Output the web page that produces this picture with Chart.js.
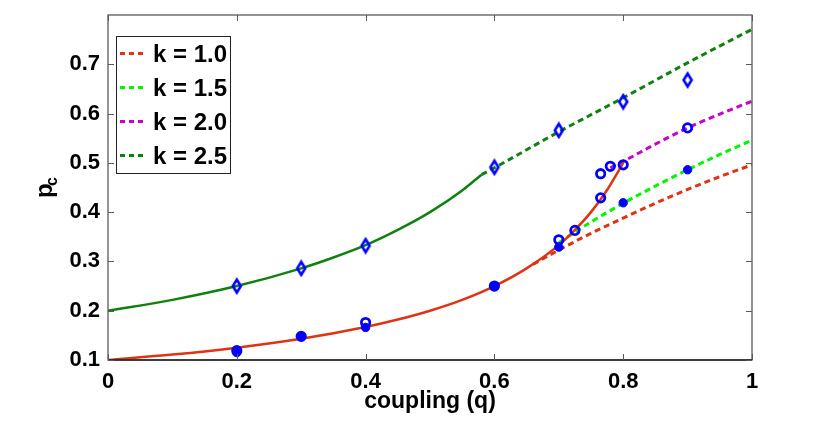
<!DOCTYPE html>
<html>
<head>
<meta charset="utf-8">
<script src="https://cdn.jsdelivr.net/npm/chart.js@4.4.1/dist/chart.umd.min.js"></script>
<style>
  html, body { margin: 0; padding: 0; background: #fff; }
  canvas { display: block; }
</style>
</head>
<body>
<canvas id="pc-chart" width="830" height="427"></canvas>
<script>
// Theory curves (solid) and their dashed continuations
const redSolidQ = [0, 0.1, 0.2, 0.3, 0.4, 0.45, 0.5, 0.55, 0.6, 0.65, 0.7, 0.725, 0.75, 0.775, 0.8];
const redSolidP = [0.1, 0.111, 0.125, 0.143, 0.167, 0.182, 0.2, 0.222, 0.25, 0.286, 0.333, 0.364, 0.4, 0.445, 0.5];

const greenSolidQ = [0, 0.1, 0.2, 0.3, 0.35, 0.4, 0.45, 0.5, 0.55, 0.58];
const greenSolidP = [0.2, 0.222, 0.25, 0.286, 0.308, 0.333, 0.364, 0.4, 0.444, 0.476];

// dashed branches, one per k
const k10Q = [0.66, 0.7, 0.75, 0.8, 0.85, 0.9, 0.95, 1.0];
const k10P = [0.294, 0.323, 0.357, 0.388, 0.418, 0.446, 0.472, 0.496];
const k15Q = [0.7, 0.75, 0.8, 0.85, 0.9, 0.95, 1.0];
const k15P = [0.338, 0.38, 0.418, 0.453, 0.486, 0.517, 0.546];
const k20Q = [0.78, 0.8, 0.85, 0.9, 0.95, 1.0];
const k20P = [0.49, 0.503, 0.538, 0.571, 0.599, 0.625];
const k25Q = [0.58, 0.6, 0.7, 0.8, 0.9, 1.0];
const k25P = [0.476, 0.49, 0.563, 0.632, 0.703, 0.771];

const kLabels = ['k = 1.0', 'k = 1.5', 'k = 2.0', 'k = 2.5'];

// simulation markers
const filledQ = [0.2, 0.3, 0.4, 0.6, 0.7, 0.8, 0.9];
const filledP = [0.115, 0.147, 0.166, 0.249, 0.329, 0.419, 0.486];
const openQ = [0.2, 0.3, 0.4, 0.6, 0.7, 0.725, 0.765, 0.765, 0.78, 0.8, 0.9];
const openP = [0.119, 0.148, 0.176, 0.25, 0.344, 0.363, 0.429, 0.478, 0.493, 0.496, 0.571];
const diamondQ = [0.2, 0.3, 0.4, 0.6, 0.7, 0.8, 0.9];
const diamondP = [0.25, 0.286, 0.332, 0.491, 0.566, 0.624, 0.668];

const xTicks = [0, 0.2, 0.4, 0.6, 0.8, 1];

const RED = 'rgb(222, 52, 20)';
const LIME = 'rgb(0, 245, 0)';
const MAGENTA = 'rgb(200, 0, 200)';
const DKGREEN = 'rgb(16, 128, 16)';
const BLUE = 'rgb(0, 0, 255)';
const AXIS = '#5a5a5a';
const FONT = 'Liberation Sans, Arial, sans-serif';

function pts(qs, ps) {
  return qs.map((q, i) => ({ x: q, y: ps[i] }));
}

function curve(qs, ps, color, dashed, legendLabel) {
  return {
    data: pts(qs, ps),
    showLine: true,
    borderColor: color,
    borderWidth: dashed ? 3 : 2.5,
    borderDash: dashed ? [6, 4] : [],
    pointRadius: 0,
    fill: false,
    cubicInterpolationMode: 'monotone',
    order: 2,
    legendLabel: legendLabel
  };
}

// diamond marker drawn once on a small canvas
const diamond = document.createElement('canvas');
diamond.width = 14;
diamond.height = 18;
(function () {
  const c = diamond.getContext('2d');
  c.strokeStyle = BLUE;
  c.lineWidth = 2.6;
  c.beginPath();
  c.moveTo(7, 2.5);
  c.lineTo(11, 9);
  c.lineTo(7, 15.5);
  c.lineTo(3, 9);
  c.closePath();
  c.stroke();
})();

const datasets = [
  {
    data: pts(filledQ, filledP),
    pointStyle: 'circle',
    pointRadius: 4.2,
    pointBackgroundColor: BLUE,
    pointBorderColor: BLUE,
    pointBorderWidth: 1,
    showLine: false,
    order: 0
  },
  {
    data: pts(openQ, openP),
    pointStyle: 'circle',
    pointRadius: 4.2,
    pointBackgroundColor: 'rgba(0,0,0,0)',
    pointBorderColor: BLUE,
    pointBorderWidth: 2.8,
    showLine: false,
    order: 1
  },
  {
    data: pts(diamondQ, diamondP),
    pointStyle: diamond,
    showLine: false,
    order: 1
  },
  curve(redSolidQ, redSolidP, RED, false),
  curve(greenSolidQ, greenSolidP, DKGREEN, false),
  curve(k10Q, k10P, RED, true, kLabels[0]),
  curve(k15Q, k15P, LIME, true, kLabels[1]),
  curve(k20Q, k20P, MAGENTA, true, kLabels[2]),
  curve(k25Q, k25P, DKGREEN, true, kLabels[3])
];

// box, inward ticks, axis titles and the legend, MATLAB style
const framePlugin = {
  id: 'frame',
  afterDraw(chart) {
    const ctx = chart.ctx;
    const a = chart.chartArea;
    const xs = chart.scales.x;
    const ys = chart.scales.y;
    ctx.save();

    ctx.strokeStyle = AXIS;
    ctx.lineWidth = 1.3;
    ctx.strokeRect(a.left, a.top, a.right - a.left, a.bottom - a.top);
    ctx.strokeStyle = '#222';
    ctx.beginPath();
    ctx.moveTo(a.left, a.bottom);
    ctx.lineTo(a.right, a.bottom);
    ctx.stroke();

    ctx.strokeStyle = AXIS;
    ctx.lineWidth = 1;
    ctx.beginPath();
    xs.ticks.forEach(t => {
      const px = Math.round(xs.getPixelForValue(t.value)) + 0.5;
      ctx.moveTo(px, a.bottom); ctx.lineTo(px, a.bottom - 6);
      ctx.moveTo(px, a.top); ctx.lineTo(px, a.top + 6);
    });
    ys.ticks.forEach(t => {
      if (t.value > 0.75) return;
      const py = Math.round(ys.getPixelForValue(t.value)) + 0.5;
      ctx.moveTo(a.left, py); ctx.lineTo(a.left + 6, py);
      ctx.moveTo(a.right, py); ctx.lineTo(a.right - 6, py);
    });
    ctx.stroke();

    // axis titles
    ctx.fillStyle = '#000';
    ctx.font = 'bold 23px ' + FONT;
    ctx.textAlign = 'center';
    ctx.textBaseline = 'alphabetic';
    ctx.fillText('coupling (q)', (a.left + a.right) / 2, 408);

    ctx.save();
    ctx.translate(52, 198);
    ctx.rotate(-Math.PI / 2);
    ctx.textAlign = 'left';
    ctx.font = 'bold 24px ' + FONT;
    ctx.fillText('p', 0, 0);
    ctx.font = 'bold 16px ' + FONT;
    ctx.fillText('c', 12, 5);
    ctx.restore();

    // legend
    const lx = 116, ly = 36, lw = 114, lh = 137;
    ctx.fillStyle = '#fff';
    ctx.fillRect(lx, ly, lw, lh);
    ctx.strokeStyle = '#222';
    ctx.lineWidth = 1;
    ctx.strokeRect(lx + 0.5, ly + 0.5, lw, lh);
    const items = chart.data.datasets.filter(d => d.legendLabel);
    items.forEach((d, i) => {
      const cy = 53.5 + i * 34;
      ctx.strokeStyle = d.borderColor;
      ctx.lineWidth = 3;
      ctx.setLineDash([5, 4]);
      ctx.beginPath();
      ctx.moveTo(120, cy);
      ctx.lineTo(146, cy);
      ctx.stroke();
      ctx.setLineDash([]);
      ctx.fillStyle = '#000';
      ctx.font = 'bold 24px ' + FONT;
      ctx.textAlign = 'left';
      ctx.textBaseline = 'middle';
      ctx.fillText(d.legendLabel, 153, cy + 2);
    });

    ctx.restore();
  }
};

const pcChart = new Chart(document.getElementById('pc-chart').getContext('2d'), {
  type: 'scatter',
  data: { datasets: datasets },
  options: {
    responsive: false,
    animation: false,
    events: [],
    layout: { padding: { top: 15, right: 78, left: 0, bottom: 0 } },
    plugins: {
      legend: { display: false },
      tooltip: { enabled: false }
    },
    scales: {
      x: {
        type: 'linear',
        min: 0,
        max: 1,
        afterFit(scale) { scale.height = 67; },
        afterBuildTicks(scale) { scale.ticks = xTicks.map(v => ({ value: v })); },
        grid: { display: false },
        border: { display: false },
        ticks: {
          padding: 1,
          color: '#000',
          font: { family: FONT, size: 22, weight: 'bold' },
          maxRotation: 0,
          callback: v => String(Number(v.toFixed(1)))
        }
      },
      y: {
        type: 'linear',
        min: 0.1,
        max: 0.8,
        afterFit(scale) { scale.width = 108; },
        grid: { display: false },
        border: { display: false },
        ticks: {
          stepSize: 0.1,
          padding: 0,
          color: '#000',
          font: { family: FONT, size: 22, weight: 'bold' },
          callback: v => (v > 0.75 ? null : v.toFixed(1))
        }
      }
    }
  },
  plugins: [framePlugin]
});
</script>
</body>
</html>
